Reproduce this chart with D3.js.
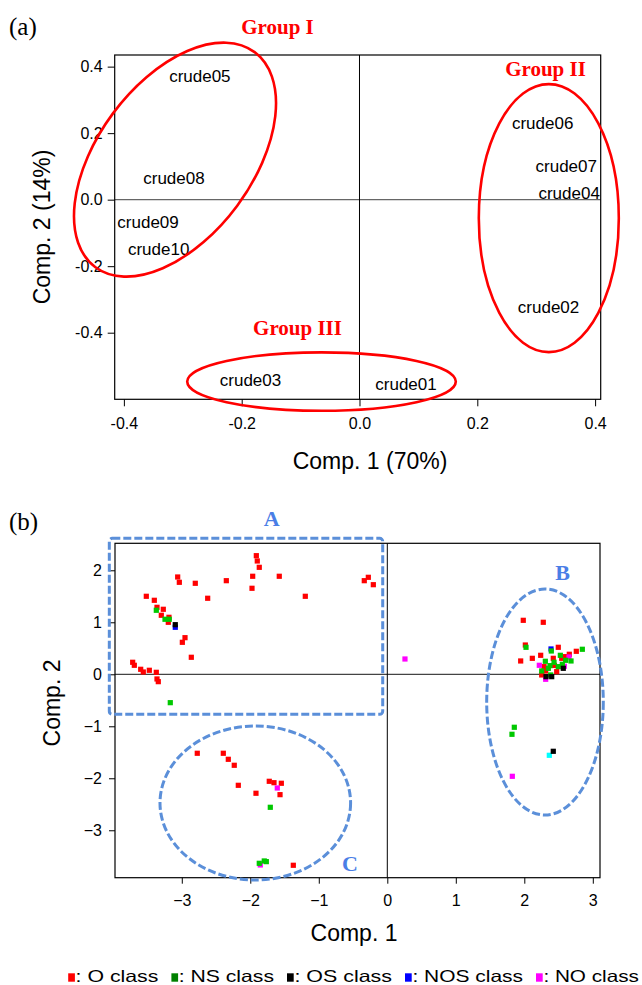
<!DOCTYPE html>
<html>
<head>
<meta charset="utf-8">
<script src="https://cdn.jsdelivr.net/npm/d3@7"></script>
<style>
  body { margin: 0; background: #fff; }
  svg { display: block; }
  text { font-family: "Liberation Sans", Arial, sans-serif; fill: #000; }
  .serif { font-family: "Liberation Serif", "Times New Roman", serif; }
</style>
</head>
<body>
<div id="chart-area"></div>
<script>
// ---- panel (a) data: loadings of the crudes
var crudeNames = ["crude01", "crude02", "crude03", "crude04", "crude05",
                  "crude06", "crude07", "crude08", "crude09", "crude10"];
var crudeX = [0.079, 0.321, -0.185, 0.356, -0.271, 0.311, 0.351, -0.315, -0.359, -0.341];
var crudeY = [-0.554, -0.323, -0.543, 0.020, 0.371, 0.229, 0.102, 0.065, -0.066, -0.150];
var ticksA = [-0.4, -0.2, 0.0, 0.2, 0.4];

// ---- panel (b) data: scores, one array per class
var oClass = [
  [-1.912, 2.281], [-1.898, 2.179], [-1.869, 2.057], [-3.060, 1.871], [-3.036, 1.769],
  [-2.803, 1.750], [-2.350, 1.800], [-1.965, 1.885], [-1.975, 1.654], [-1.577, 1.885],
  [-2.622, 1.462], [-1.197, 1.500], [-0.336, 1.800], [-0.277, 1.865], [-0.204, 1.723],
  [-3.518, 1.500], [-3.401, 1.423], [-3.362, 1.288], [-3.270, 1.250], [-3.299, 1.135],
  [-3.187, 1.096], [-3.197, 1.000], [-2.953, 0.704], [-2.992, 0.615], [-2.861, 0.327],
  [-3.717, 0.231], [-3.693, 0.173], [-3.600, 0.096], [-3.562, 0.044], [-3.474, 0.077],
  [-3.372, 0.038], [-3.362, -0.090], [-3.343, -0.142],
  [-2.774, -1.519], [-2.394, -1.519], [-2.321, -1.635], [-2.234, -1.750], [-2.175, -2.135],
  [-1.917, -2.288], [-1.723, -2.058], [-1.654, -2.085], [-1.547, -2.096], [-1.566, -2.315],
  [-1.372, -3.673],
  [1.985, 1.038], [2.277, 1.000], [2.015, 0.563], [1.947, 0.256], [2.117, 0.307],
  [2.239, 0.365], [2.496, 0.519], [2.657, 0.385], [2.759, 0.442], [2.423, 0.307],
  [2.288, 0.147], [2.312, 0.064], [2.254, -0.013], [2.473, 0.051], [2.546, 0.307],
  [2.594, 0.339], [2.440, 0.170]
];
var nsClass = [
  [-3.372, 1.231], [-3.245, 1.058], [-3.183, 1.058], [-3.168, -0.546],
  [-1.708, -2.558], [-1.869, -3.635], [-1.796, -3.590], [-1.766, -3.603],
  [2.025, 0.519], [2.847, 0.481], [2.394, 0.448], [2.526, 0.365], [2.307, 0.250],
  [2.434, 0.231], [2.375, 0.166], [2.496, 0.147], [2.555, 0.192], [2.604, 0.269],
  [2.682, 0.256], [2.254, 0.064], [2.385, -0.013], [2.351, 0.115],
  [1.854, -1.019], [1.820, -1.154]
];
var osClass = [[-3.095, 0.954], [2.569, 0.115], [2.317, -0.046], [2.400, -0.046], [2.423, -1.481]];
var nosClass = [[-3.095, 0.904], [2.390, 0.487]];
var noClass = [[0.258, 0.294], [-1.606, -2.187], [-1.854, -3.667], [2.219, 0.173],
               [2.653, 0.333], [2.312, -0.096], [2.584, 0.154], [1.825, -1.962]];
var otherPts = [[2.365, -1.558]];
var ticksBx = [-3, -2, -1, 0, 1, 2, 3];
var ticksBy = [-3, -2, -1, 0, 1, 2];
var legendLabels = ["O class", "NS class", "OS class", "NOS class", "NO class"];
var legendColors = ["#ff0000", "#008000", "#000000", "#0000ff", "#ff00ff"];

var W = 642, H = 985;
var svg = d3.select("#chart-area").append("svg")
  .attr("width", W).attr("height", H);

// ================= panel (a) =================
var xa = d3.scaleLinear().domain([-0.4156, 0.4095]).range([114.7, 600.7]);
var ya = d3.scaleLinear().domain([-0.6003, 0.435]).range([399.3, 55]);
var ga = svg.append("g");

ga.append("line")
  .attr("x1", xa.range()[0]).attr("x2", xa.range()[1])
  .attr("y1", ya(0)).attr("y2", ya(0))
  .attr("stroke", "#666").attr("stroke-width", 1.2);
ga.append("line")
  .attr("x1", xa(0)).attr("x2", xa(0))
  .attr("y1", ya.range()[0]).attr("y2", ya.range()[1])
  .attr("stroke", "#000").attr("stroke-width", 1);

ga.append("rect")
  .attr("x", 114.7).attr("y", 55)
  .attr("width", 600.7 - 114.7).attr("height", 399.3 - 55)
  .attr("fill", "none").attr("stroke", "#000").attr("stroke-width", 1.2);

var fmtA = function(d) { return d3.format(".1f")(d).replace("−", "-"); };
ga.append("g")
  .attr("transform", "translate(0,399.3)")
  .call(d3.axisBottom(xa).tickValues(ticksA).tickSize(7).tickPadding(11).tickFormat(fmtA))
  .call(function(g) { g.select(".domain").remove(); });
ga.append("g")
  .attr("transform", "translate(114.7,0)")
  .call(d3.axisLeft(ya).tickValues(ticksA).tickSize(7).tickPadding(5).tickFormat(fmtA))
  .call(function(g) { g.select(".domain").remove(); });

ga.selectAll("text.crude")
  .data(crudeNames)
  .enter().append("text")
    .attr("class", "crude")
    .attr("x", function(d, i) { return xa(crudeX[i]); })
    .attr("y", function(d, i) { return ya(crudeY[i]); })
    .attr("dy", "0.35em")
    .attr("text-anchor", "middle")
    .attr("font-size", 17)
    .text(function(d) { return d; });

// group ellipses (annotations, centred in data units)
var groupsA = [
  { name: "Group I",   cx: -0.3132, cy: 0.1203,  rx: 133.8, ry: 77.4, rot: -53.5, lx: 277.5, ly: 27 },
  { name: "Group II",  cx: 0.3214,  cy: -0.0556, rx: 70,    ry: 134,  rot: 0,     lx: 545.5, ly: 69 },
  { name: "Group III", cx: -0.0645, cy: -0.547,  rx: 134.3, ry: 29.2, rot: 0,     lx: 297.5, ly: 328 }
];
groupsA.forEach(function(gr) {
  ga.append("ellipse")
    .attr("transform", "translate(" + xa(gr.cx) + "," + ya(gr.cy) + ") rotate(" + gr.rot + ")")
    .attr("rx", gr.rx).attr("ry", gr.ry)
    .attr("fill", "none").attr("stroke", "#ff0000").attr("stroke-width", 2.6);
  ga.append("text")
    .attr("class", "serif")
    .attr("x", gr.lx).attr("y", gr.ly).attr("dy", "0.35em")
    .attr("text-anchor", "middle")
    .attr("font-size", 21).attr("font-weight", "bold")
    .style("fill", "#ff0000")
    .text(gr.name);
});

ga.selectAll(".tick text").attr("font-size", 16).attr("fill", "#000")
  .style("font-family", "'Liberation Sans', Arial, sans-serif");
ga.selectAll(".tick line").attr("stroke", "#000");

ga.append("text")
  .attr("x", 370).attr("y", 461).attr("dy", "0.35em")
  .attr("text-anchor", "middle").attr("font-size", 23)
  .text("Comp. 1 (70%)");
ga.append("text")
  .attr("transform", "translate(42,227) rotate(-90)")
  .attr("dy", "0.35em")
  .attr("text-anchor", "middle").attr("font-size", 23)
  .text("Comp. 2 (14%)");
svg.append("text").attr("class", "serif")
  .attr("x", 9).attr("y", 35).attr("font-size", 25).text("(a)");

// ================= panel (b) =================
var xb = d3.scaleLinear().domain([-3.975, 3.105]).range([115, 600]);
var yb = d3.scaleLinear().domain([-3.912, 2.519]).range([877.7, 543.3]);
var gb = svg.append("g");

gb.append("line")
  .attr("x1", xb.range()[0]).attr("x2", xb.range()[1])
  .attr("y1", yb(0)).attr("y2", yb(0))
  .attr("stroke", "#444").attr("stroke-width", 1.3);
gb.append("line")
  .attr("x1", xb(0)).attr("x2", xb(0))
  .attr("y1", yb.range()[0]).attr("y2", yb.range()[1])
  .attr("stroke", "#000").attr("stroke-width", 1);

var fmtB = d3.format("d");
gb.append("g")
  .attr("transform", "translate(0,877.7)")
  .call(d3.axisBottom(xb).tickValues(ticksBx).tickSize(6).tickPadding(11).tickFormat(fmtB))
  .call(function(g) { g.select(".domain").remove(); });
gb.append("g")
  .attr("transform", "translate(115,0)")
  .call(d3.axisLeft(yb).tickValues(ticksBy).tickSize(6).tickPadding(7).tickFormat(fmtB))
  .call(function(g) { g.select(".domain").remove(); });
gb.selectAll(".tick text").attr("font-size", 16).attr("fill", "#000")
  .style("font-family", "'Liberation Sans', Arial, sans-serif");
gb.selectAll(".tick line").attr("stroke", "#000");

function drawSquares(pts, color) {
  gb.append("g").selectAll("rect")
    .data(pts)
    .enter().append("rect")
      .attr("x", function(d) { return xb(d[0]) - 2.6; })
      .attr("y", function(d) { return yb(d[1]) - 2.6; })
      .attr("width", 5.2).attr("height", 5.2)
      .attr("fill", color);
}
drawSquares(oClass, "#ff0000");
drawSquares(otherPts, "#00ffff");
drawSquares(noClass, "#ff00ff");
drawSquares(nosClass, "#0000ff");
drawSquares(nsClass, "#00c800");
drawSquares(osClass, "#000000");

gb.append("rect")
  .attr("x", 115).attr("y", 543.3)
  .attr("width", 600 - 115).attr("height", 877.7 - 543.3)
  .attr("fill", "none").attr("stroke", "#000").attr("stroke-width", 1.2);

// dashed cluster outlines
var clusterBlue = "#5b8fd9";
gb.append("rect")
  .attr("x", xb(-4.058)).attr("y", yb(2.615))
  .attr("width", xb(-0.067) - xb(-4.058)).attr("height", yb(-0.769) - yb(2.615))
  .attr("rx", 3)
  .attr("fill", "none").attr("stroke", clusterBlue)
  .attr("stroke-width", 3).attr("stroke-dasharray", "8,3");
[{ cx: 2.302, cy: -0.533, rx: 58.3, ry: 113 },
 { cx: -1.927, cy: -2.475, rx: 95.3, ry: 77 }].forEach(function(e) {
  gb.append("ellipse")
    .attr("cx", xb(e.cx)).attr("cy", yb(e.cy))
    .attr("rx", e.rx).attr("ry", e.ry)
    .attr("fill", "none").attr("stroke", clusterBlue)
    .attr("stroke-width", 3).attr("stroke-dasharray", "8,3");
});
[{ t: "A", x: 271.7, y: 518.5 }, { t: "B", x: 562.7, y: 572 }, { t: "C", x: 350, y: 863 }]
  .forEach(function(l) {
    gb.append("text").attr("class", "serif")
      .attr("x", l.x).attr("y", l.y).attr("dy", "0.35em")
      .attr("text-anchor", "middle")
      .attr("font-size", 22).attr("font-weight", "bold")
      .style("fill", "#4a7ee6")
      .text(l.t);
  });

gb.append("text")
  .attr("x", 354).attr("y", 933).attr("dy", "0.35em")
  .attr("text-anchor", "middle").attr("font-size", 23)
  .text("Comp. 1");
gb.append("text")
  .attr("transform", "translate(52,703) rotate(-90)")
  .attr("dy", "0.35em")
  .attr("text-anchor", "middle").attr("font-size", 23)
  .text("Comp. 2");
svg.append("text").attr("class", "serif")
  .attr("x", 9).attr("y", 530).attr("font-size", 25).text("(b)");

// legend: the text in the original is stretched sideways, so fit it with textLength
var legendX = [68.2, 171.4, 287, 405, 536, 652];
legendLabels.forEach(function(lab, i) {
  var x0 = legendX[i];
  svg.append("rect")
    .attr("x", x0).attr("y", 973.3)
    .attr("width", 6.7).attr("height", 8.4)
    .attr("fill", legendColors[i]);
  svg.append("text")
    .attr("x", x0 + 7.4).attr("y", 981.7)
    .attr("font-size", 16.5)
    .attr("textLength", legendX[i + 1] - 13 - (x0 + 7.4))
    .attr("lengthAdjust", "spacingAndGlyphs")
    .text(": " + lab);
});
</script>
</body>
</html>
